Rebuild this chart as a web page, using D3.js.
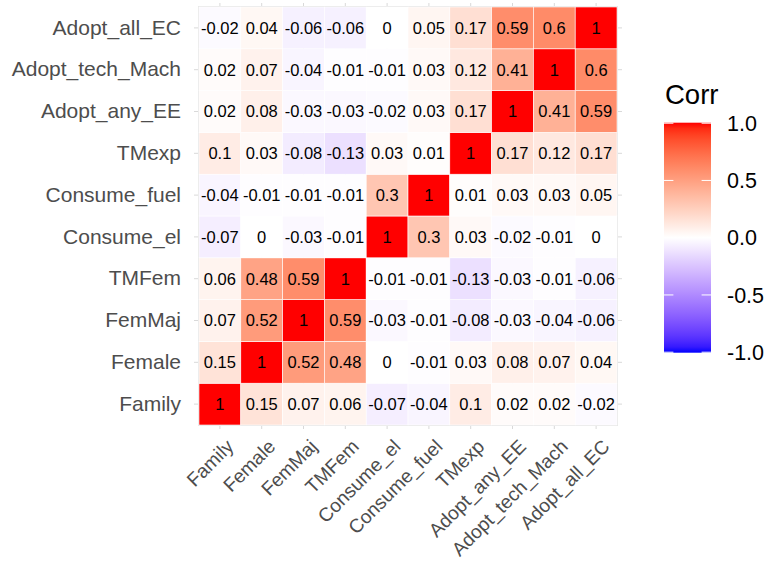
<!DOCTYPE html>
<html><head><meta charset="utf-8">
<script src="https://cdn.jsdelivr.net/npm/d3@7"></script>
<style>body{margin:0;background:#fff} svg{display:block;font-family:"Liberation Sans",Arial,Helvetica,sans-serif}</style>
</head><body><svg id="chart" width="768" height="561"></svg>
<script>
// Variables (column order left->right, row order bottom->top)
const variables = ["Family","Female","FemMaj","TMFem","Consume_el","Consume_fuel","TMexp","Adopt_any_EE","Adopt_tech_Mach","Adopt_all_EC"];

// Correlation rows (same order as variables)
const rowFamily        = [1, 0.15, 0.07, 0.06, -0.07, -0.04, 0.1, 0.02, 0.02, -0.02];
const rowFemale        = [0.15, 1, 0.52, 0.48, 0, -0.01, 0.03, 0.08, 0.07, 0.04];
const rowFemMaj        = [0.07, 0.52, 1, 0.59, -0.03, -0.01, -0.08, -0.03, -0.04, -0.06];
const rowTMFem         = [0.06, 0.48, 0.59, 1, -0.01, -0.01, -0.13, -0.03, -0.01, -0.06];
const rowConsumeEl     = [-0.07, 0, -0.03, -0.01, 1, 0.3, 0.03, -0.02, -0.01, 0];
const rowConsumeFuel   = [-0.04, -0.01, -0.01, -0.01, 0.3, 1, 0.01, 0.03, 0.03, 0.05];
const rowTMexp         = [0.1, 0.03, -0.08, -0.13, 0.03, 0.01, 1, 0.17, 0.12, 0.17];
const rowAdoptAnyEE    = [0.02, 0.08, -0.03, -0.03, -0.02, 0.03, 0.17, 1, 0.41, 0.59];
const rowAdoptTechMach = [0.02, 0.07, -0.04, -0.01, -0.01, 0.03, 0.12, 0.41, 1, 0.6];
const rowAdoptAllEC    = [-0.02, 0.04, -0.06, -0.06, 0, 0.05, 0.17, 0.59, 0.6, 1];

// Legend
const legendTitle = "Corr";
const legendBreaks = [1, 0.5, 0, -0.5, -1];
const legendLabels = ["1.0", "0.5", "0.0", "-0.5", "-1.0"];

const matrix = [rowFamily, rowFemale, rowFemMaj, rowTMFem, rowConsumeEl, rowConsumeFuel,
                rowTMexp, rowAdoptAnyEE, rowAdoptTechMach, rowAdoptAllEC];
const cells = [];
variables.forEach((rv, i) => variables.forEach((cv, j) => cells.push({row: rv, col: cv, value: matrix[i][j]})));

const svg = d3.select("#chart");
const P = {left: 199, top: 7, size: 418};
const x = d3.scaleBand().domain(variables).range([P.left, P.left + P.size]);
const y = d3.scaleBand().domain(variables).range([P.top + P.size, P.top]);
const color = d3.scaleLinear().domain([-1, 0, 1]).range(["blue", "white", "red"]).interpolate(d3.interpolateLab);

// grid stubs / ticks
const grid = svg.append("g").attr("stroke", "#d9d9d9").attr("stroke-width", 1);
variables.forEach(v => {
  const cx = x(v) + x.bandwidth() / 2, cy = y(v) + y.bandwidth() / 2;
  grid.append("line").attr("x1", cx).attr("x2", cx).attr("y1", P.top - 4).attr("y2", P.top + P.size + 4);
  grid.append("line").attr("y1", cy).attr("y2", cy).attr("x1", P.left - 5).attr("x2", P.left + P.size + 5);
});
svg.append("rect").attr("x", P.left - 0.5).attr("y", P.top - 0.5).attr("width", P.size + 1).attr("height", P.size + 1)
  .attr("fill", "none").attr("stroke", "#e6e6e6");

// tiles
svg.append("g").selectAll("rect").data(cells).join("rect")
  .attr("x", d => x(d.col)).attr("y", d => y(d.row))
  .attr("width", x.bandwidth()).attr("height", y.bandwidth())
  .attr("fill", d => color(d.value)).attr("stroke", "white").attr("stroke-width", 0.6);

// labels in cells
svg.append("g").selectAll("text").data(cells).join("text")
  .attr("x", d => x(d.col) + x.bandwidth() / 2).attr("y", d => y(d.row) + y.bandwidth() / 2)
  .attr("text-anchor", "middle").attr("dy", "0.36em")
  .attr("font-size", 16.5).attr("fill", "black")
  .text(d => String(d.value));

// y axis labels
const yAxis = svg.append("g").attr("transform", "translate(181,0)")
  .call(d3.axisLeft(y).tickSize(0).tickPadding(0));
yAxis.select(".domain").remove();
yAxis.selectAll("text").attr("font-size", 21).attr("fill", "#4d4d4d").attr("font-family", "Liberation Sans, Arial, sans-serif");

// x axis labels
const xAxis = svg.append("g").attr("transform", "translate(5,438)")
  .call(d3.axisBottom(x).tickSize(0).tickPadding(0));
xAxis.select(".domain").remove();
xAxis.selectAll("text").attr("font-size", 19.2).attr("fill", "#4d4d4d").attr("font-family", "Liberation Sans, Arial, sans-serif")
  .attr("text-anchor", "end").attr("y", 0).attr("x", 0).attr("dy", "0.72em")
  .attr("transform", "rotate(-45)");

// legend
const L = {x: 664, y0: 122.7, y1: 352.7, w: 47};
const ly = d3.scaleLinear().domain([-1, 1]).range([L.y1 - 0.5, L.y0 + 0.5]);
const defs = svg.append("defs");
const grad = defs.append("linearGradient").attr("id", "corrGrad").attr("x1", 0).attr("x2", 0).attr("y1", 1).attr("y2", 0);
d3.range(0, 41).forEach(i => {
  const t = i / 40;
  grad.append("stop").attr("offset", t).attr("stop-color", color(-1 + 2 * t));
});
svg.append("text").attr("x", 665).attr("y", 104).attr("font-size", 27.5).attr("fill", "black").text(legendTitle);
svg.append("rect").attr("x", L.x).attr("y", L.y0).attr("width", L.w).attr("height", L.y1 - L.y0).attr("fill", "url(#corrGrad)");
const lt = svg.append("g").attr("stroke", "white").attr("stroke-width", 1);
legendBreaks.forEach(b => {
  const yy = ly(b);
  lt.append("line").attr("x1", L.x).attr("x2", L.x + L.w / 5).attr("y1", yy).attr("y2", yy);
  lt.append("line").attr("x1", L.x + L.w - L.w / 5).attr("x2", L.x + L.w).attr("y1", yy).attr("y2", yy);
});
svg.append("g").selectAll("text").data(legendBreaks).join("text")
  .attr("x", 727).attr("y", d => ly(d)).attr("dy", "0.36em")
  .attr("font-size", 21.5).attr("fill", "black")
  .text((d, i) => legendLabels[i]);
</script></body></html>
